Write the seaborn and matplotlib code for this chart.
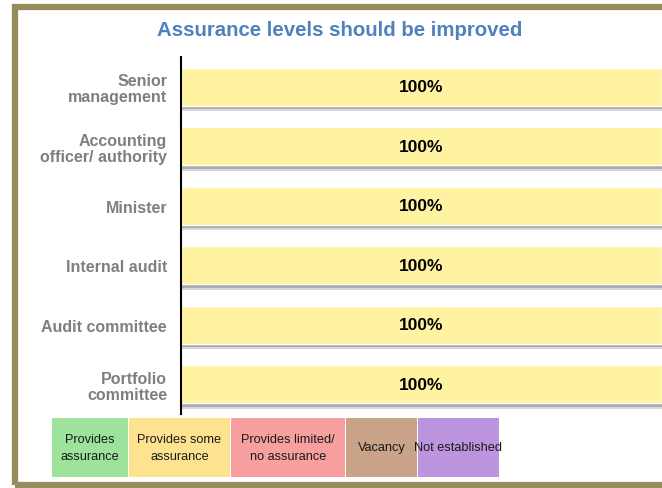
import matplotlib
matplotlib.use("Agg")
import matplotlib.pyplot as plt
import matplotlib.patheffects as pe
from matplotlib.patches import Rectangle
import pandas as pd
import seaborn as sns

# data
categories = ["Senior\nmanagement", "Accounting\nofficer/ authority", "Minister",
              "Internal audit", "Audit committee", "Portfolio\ncommittee"]
some_assurance = [100, 100, 100, 100, 100, 100]
bar_labels = ["100%"] * 6

legend_labels = ["Provides\nassurance", "Provides some\nassurance", "Provides limited/\nno assurance",
                 "Vacancy", "Not established"]
legend_colors = ["#9de39c", "#fde390", "#f7a09f", "#c8a387", "#bc95de"]

sns.set_theme(style="white")
plt.rcParams['font.family'] = ['Liberation Sans', 'DejaVu Sans']

W, H = 662, 489
fig = plt.figure(figsize=(W / 100, H / 100), dpi=100)

# outer frame
fig.add_artist(Rectangle((15 / W, 3 / H), 1.2, 1 - 11 / H, transform=fig.transFigure,
                         fill=False, edgecolor="#978d5c", linewidth=4.5))

ax = fig.add_axes([181 / W, 1 - 415 / H, 1 - 181 / W, 357 / H])
df = pd.DataFrame({"cat": categories, "val": some_assurance})
sns.barplot(data=df, y="cat", x="val", orient="h", color="#fff2a1", saturation=1,
            width=0.64, ax=ax)
# soft drop shadow under each bar
for p in ax.patches:
    p.set_path_effects([pe.SimplePatchShadow(offset=(0, -4), shadow_rgbFace="#a8a8a8", alpha=0.45),
                        pe.SimplePatchShadow(offset=(0, -2.5), shadow_rgbFace="#909090", alpha=0.6),
                        pe.Normal()])
ax.set_xlim(0, 100)
for i, lab in enumerate(bar_labels):
    ax.text(50, i, lab, ha="center", va="center", fontsize=12.5, fontweight="bold",
            color="black")

ax.set_xlabel("")
ax.set_ylabel("")
ax.set_xticks([])
ax.tick_params(axis="y", length=0, pad=10)
for t in ax.get_yticklabels():
    t.set_fontsize(11.5)
    t.set_fontweight("bold")
    t.set_color("#7f7f7f")
    t.set_horizontalalignment("right")
    t.set_multialignment("right")
    t.set_linespacing(1.1)
for s in ["top", "right", "bottom"]:
    ax.spines[s].set_visible(False)
ax.spines["left"].set_color("black")
ax.spines["left"].set_linewidth(1.5)

fig.text(340 / W, 1 - 30 / H, "Assurance levels should be improved", ha="center", va="center",
         fontsize=14.7, fontweight="bold", color="#4f81bd")

# legend boxes
edges = [52, 129, 231, 346, 418, 500]
y0, y1 = 419, 478
for i, (lab, col) in enumerate(zip(legend_labels, legend_colors)):
    x0, x1 = edges[i], edges[i + 1] - 1
    fig.add_artist(Rectangle((x0 / W, 1 - y1 / H), (x1 - x0) / W, (y1 - y0) / H,
                             transform=fig.transFigure, facecolor=col, edgecolor="none"))
    fig.text((x0 + x1) / 2 / W, 1 - (y0 + y1) / 2 / H, lab, ha="center", va="center",
             fontsize=9.2, color="#1a1a1a", linespacing=1.6)

fig.savefig("out.png", dpi=100)
